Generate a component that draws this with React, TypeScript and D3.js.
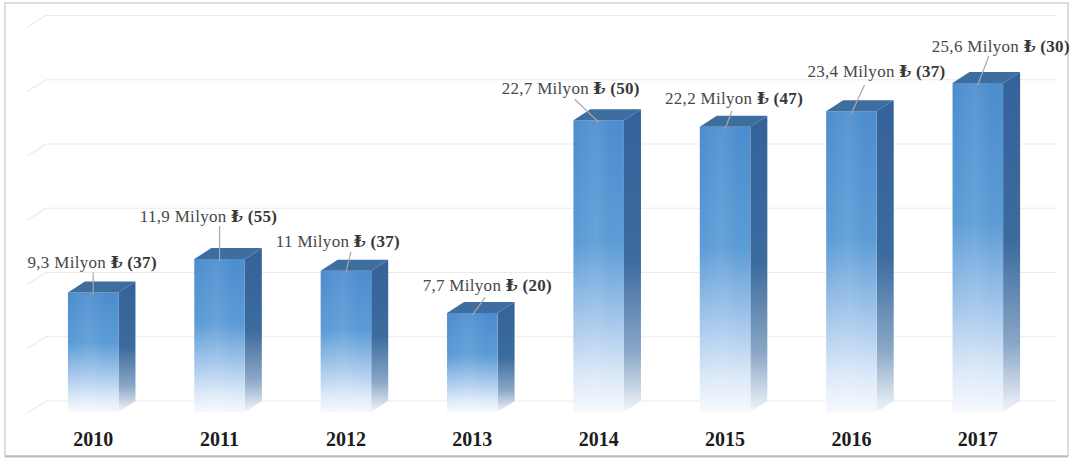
import React from 'react';
import * as d3 from 'd3';

const years = ['2010', '2011', '2012', '2013', '2014', '2015', '2016', '2017'];
const amounts = [9.3, 11.9, 11, 7.7, 22.7, 22.2, 23.4, 25.6];
const counts = [37, 55, 37, 20, 50, 47, 37, 30];
const yTicks = [0, 5, 10, 15, 20, 25, 30];

// layout: label centre offset (dx, dy) and leader start offset (lx, ly), relative to the bar's front-top centre
const labelLayout = [
  [-1, -30, 0, -20],
  [-11, -43, 0, -33],
  [-8, -30, 5, -19],
  [15, -28, 13, -16],
  [-28, -32, -24, -21],
  [9, -29, 7, -16],
  [25, -40, 13, -26],
  [23, -37, 11, -27],
];

const W = 1074;
const H = 460;
const DX = 17;
const DY = -11;

export default function App() {
  const x = d3.scaleBand<string>().domain(years).range([30, 1041]).paddingInner(0.6).paddingOuter(0.3);
  const y = d3.scaleLinear().domain([0, 30]).range([412, 26.5]);
  const bw = x.bandwidth();
  const serif = "'Liberation Serif', 'DejaVu Serif', serif";

  return (
    <svg width={W} height={H} style={{ position: 'absolute', left: 0, top: 0, background: '#fff' }} xmlns="http://www.w3.org/2000/svg">
      <defs>
        <linearGradient id="front" x1="0" y1="0" x2="0" y2="1">
          <stop offset="0" stopColor="#4d8dce" />
          <stop offset="0.42" stopColor="#5b9bd6" />
          <stop offset="0.7" stopColor="#a8c9ec" />
          <stop offset="0.88" stopColor="#dce9f8" />
          <stop offset="1" stopColor="#f6f9fe" />
        </linearGradient>
        <linearGradient id="frontHi" x1="0" y1="0" x2="1" y2="0">
          <stop offset="0" stopColor="#ffffff" stopOpacity="0" />
          <stop offset="0.45" stopColor="#ffffff" stopOpacity="0.08" />
          <stop offset="0.75" stopColor="#ffffff" stopOpacity="0" />
        </linearGradient>
        <linearGradient id="side" x1="0" y1="0" x2="0" y2="1">
          <stop offset="0" stopColor="#34629a" />
          <stop offset="0.5" stopColor="#3c6b9e" />
          <stop offset="0.8" stopColor="#8aa7c7" />
          <stop offset="1" stopColor="#f2f5f9" />
        </linearGradient>
      </defs>
      <rect x={0} y={0} width={W} height={H} fill="#fff" />
      <rect x={5} y={3} width={1063} height={453} fill="#fff" stroke="#d2d2d2" strokeWidth={1.5} />
      <line x1={5} x2={1068} y1={456.5} y2={456.5} stroke="#bdbdbd" strokeWidth={2} />

      {/* gridlines on back wall */}
      {yTicks.map((t) => {
        const yb = y(t) + DY;
        return (
          <g key={t}>
            <line x1={46} x2={1056} y1={yb} y2={yb} stroke="#ebebeb" strokeWidth={1.2} />
            <line x1={46} x2={27} y1={yb} y2={yb + 12} stroke="#ebebeb" strokeWidth={1.2} />
          </g>
        );
      })}

      {/* bars */}
      {years.map((yr, i) => {
        const x0 = x(yr)!;
        const x1 = x0 + bw;
        const yt = y(amounts[i]);
        const yb = y(0);
        const frontPath = `M${x0},${yt}L${x1},${yt}L${x1},${yb}L${x0},${yb}Z`;
        const sidePath = `M${x1},${yt}L${x1 + DX},${yt + DY}L${x1 + DX},${yb + DY}L${x1},${yb}Z`;
        const topPath = `M${x0},${yt}L${x0 + DX},${yt + DY}L${x1 + DX},${yt + DY}L${x1},${yt}Z`;
        return (
          <g key={yr}>
            <path d={sidePath} fill="url(#side)" />
            <path d={frontPath} fill="url(#front)" />
            <path d={frontPath} fill="url(#frontHi)" />
            <path d={topPath} fill="#3e6da0" />
          </g>
        );
      })}

      {/* data labels with leader lines */}
      {years.map((yr, i) => {
        const cx = x(yr)! + bw / 2;
        const yt = y(amounts[i]);
        const [dx, dy, lx, ly] = labelLayout[i];
        const amt = String(amounts[i]).replace('.', ',');
        return (
          <g key={'l' + yr}>
            <line x1={cx + lx} y1={yt + ly} x2={cx} y2={yt + 2} stroke="#a9a9a9" strokeWidth={1.2} />
            <text
              x={cx + dx}
              y={yt + dy}
              dy="0.35em"
              textAnchor="middle"
              fontFamily={serif}
              fontSize={17}
              letterSpacing={0.3}
              fill="#484848"
            >
              <tspan>{amt} Milyon </tspan>
              <tspan fontWeight="bold" fill="#383838">{`₺ (${counts[i]})`}</tspan>
            </text>
          </g>
        );
      })}

      {/* category labels */}
      {years.map((yr) => (
        <text
          key={'c' + yr}
          x={x(yr)! + bw / 2}
          y={446}
          textAnchor="middle"
          fontFamily={serif}
          fontWeight="bold"
          fontSize={20}
          fill="#1c1c1c"
        >
          {yr}
        </text>
      ))}
    </svg>
  );
}
